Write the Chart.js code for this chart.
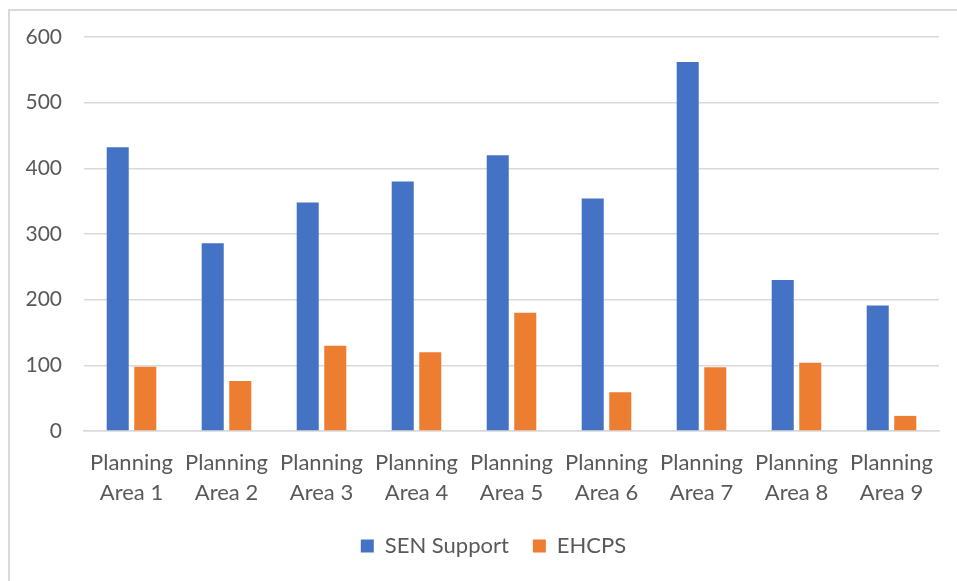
<!DOCTYPE html>
<html>
<head>
<meta charset="utf-8">
<script src="https://cdn.jsdelivr.net/npm/chart.js@4"></script>
<style>
  html, body { margin: 0; padding: 0; background: #fff; }
  .frame {
    position: absolute; left: 8px; top: 9px; width: 960px; height: 580px;
    border-top: 2px solid #d9d9d9; border-left: 2px solid #d9d9d9;
  }
  .wrap { position: absolute; left: 0; top: 0; width: 957px; height: 581px; }
</style>
</head>
<body>
<div class="frame"></div>
<div class="wrap"><canvas id="chart" width="957" height="581"></canvas></div>
<script>
const areas = [
  ['Planning', 'Area 1'], ['Planning', 'Area 2'], ['Planning', 'Area 3'],
  ['Planning', 'Area 4'], ['Planning', 'Area 5'], ['Planning', 'Area 6'],
  ['Planning', 'Area 7'], ['Planning', 'Area 8'], ['Planning', 'Area 9']
]
const senSupport = [432, 286, 348, 380, 420, 354, 562, 230, 191]
const ehcps = [98, 76, 130, 120, 180, 59, 97, 104, 23]
const yTicks = [0, 100, 200, 300, 400, 500, 600]

const textColor = '#595959'
const gridColor = '#d9d9d9'
const family = 'Lato, "Open Sans", sans-serif'

// the legend in the reference sits centred on the plot area, not the canvas
const shiftLegend = {
  id: 'shiftLegend',
  afterLayout(chart) {
    if (chart.legend) chart.legend.left += 48
  }
}

new Chart(document.getElementById('chart'), {
  type: 'bar',
  data: {
    labels: areas,
    datasets: [
      { label: 'SEN Support', data: senSupport, backgroundColor: '#4472C4' },
      { label: 'EHCPS', data: ehcps, backgroundColor: '#ED7D31' }
    ]
  },
  options: {
    responsive: false,
    animation: false,
    categoryPercentage: 0.58,
    barPercentage: 0.8,
    layout: { padding: { left: 0, right: 18, top: 37, bottom: 14 } },
    plugins: {
      tooltip: { enabled: false },
      legend: {
        position: 'bottom',
        labels: {
          color: textColor,
          font: { family, size: 22 },
          boxWidth: 13,
          boxHeight: 13,
          padding: 24
        }
      }
    },
    scales: {
      x: {
        grid: { display: false, drawTicks: false },
        border: { display: true, color: gridColor, width: 1.5 },
        ticks: {
          color: textColor, font: { family, size: 22, lineHeight: 1.35 },
          padding: 17, maxRotation: 0, autoSkip: false
        },
        afterFit: (scale) => { scale.height = 80 }
      },
      y: {
        min: 0,
        max: 600,
        grid: { color: gridColor, lineWidth: 1.5, drawTicks: false },
        border: { display: false },
        afterBuildTicks: (scale) => { scale.ticks = yTicks.map(v => ({ value: v })) },
        ticks: { color: textColor, font: { family, size: 21 }, padding: 22 },
        afterFit: (scale) => { scale.width = 84 }
      }
    }
  },
  plugins: [shiftLegend]
})
</script>
</body>
</html>
